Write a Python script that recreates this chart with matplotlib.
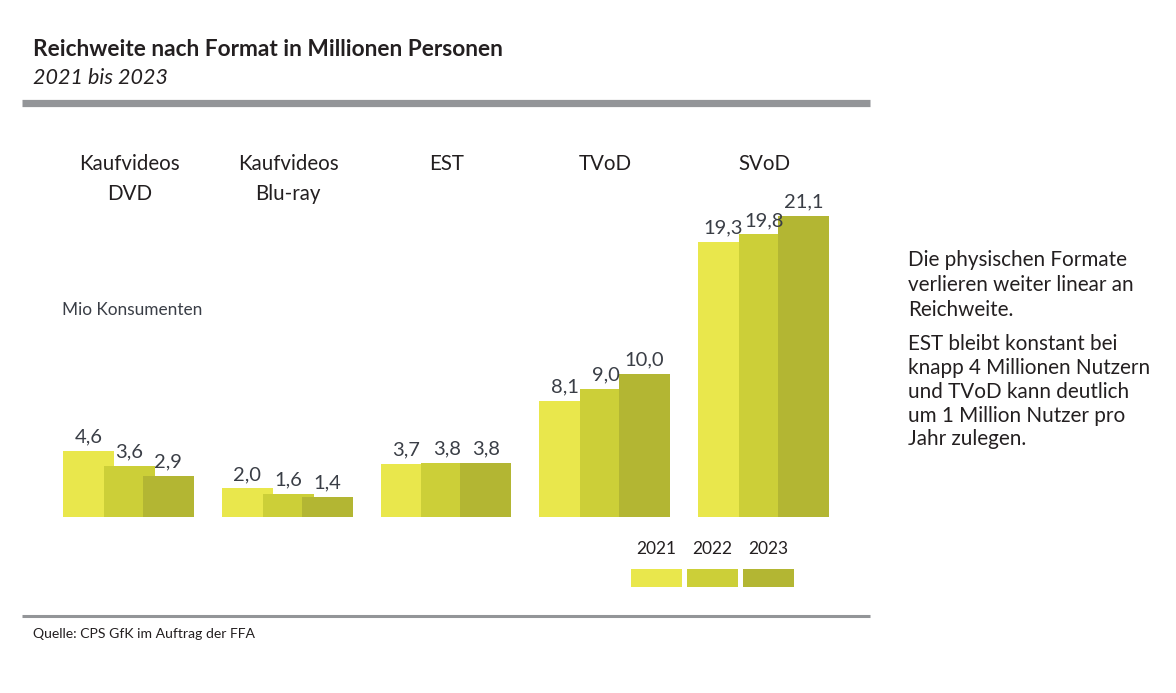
import matplotlib
matplotlib.use("Agg")
import matplotlib.pyplot as plt
from matplotlib.patches import Rectangle
from matplotlib.lines import Line2D

plt.rcParams['font.family'] = ['Lato', 'DejaVu Sans']

# data
formats = ["Kaufvideos\nDVD", "Kaufvideos\nBlu-ray", "EST", "TVoD", "SVoD"]
years = ["2021", "2022", "2023"]
v2021 = [4.6, 2.0, 3.7, 8.1, 19.3]
v2022 = [3.6, 1.6, 3.8, 9.0, 19.8]
v2023 = [2.9, 1.4, 3.8, 10.0, 21.1]
colors = ["#e9e74c", "#cccf38", "#b3b633"]

W, H = 1176, 693
fig = plt.figure(figsize=(W / 100, H / 100), dpi=100)

def fx(px):
    return px / W

def fy(py):
    return 1 - py / H

# axes placed in pixel terms: left 22, right 870, baseline y=517, top y=140
ax = fig.add_axes([fx(22), fy(517), fx(870 - 22), (517 - 140) / H])
ax.set_xlim(-0.677, 4.665)
ax.set_ylim(0, 377 / 14.27)
ax.axis("off")

offsets = [-0.258, 0.0, 0.245]
width = 0.321
series = [v2021, v2022, v2023]
for k, vals in enumerate(series):
    xs = [i + offsets[k] for i in range(len(formats))]
    ax.bar(xs, vals, width=width, color=colors[k], linewidth=0, zorder=2 + k)
    for x, v in zip(xs, vals):
        ax.annotate(f"{v:.1f}".replace(".", ","), (x, v), xytext=(0, 4),
                    textcoords="offset points", ha="center", va="bottom",
                    fontsize=14.5, color="#3a3e46", zorder=10)

for i, name in enumerate(formats):
    ax.text(i, 363 / 14.27, name, ha="center", va="top", fontsize=14.8,
            color="#231f20", linespacing=1.63)

# title block
fig.text(fx(33), fy(50), "Reichweite nach Format in Millionen Personen",
         fontsize=16.3, fontweight="bold", color="#231f20", va="center")
fig.text(fx(33), fy(78), "2021 bis 2023", fontsize=15.5, fontstyle="italic",
         color="#231f20", va="center")
fig.add_artist(Line2D([fx(22), fx(870)], [fy(102.5), fy(102.5)],
                      color="#939598", linewidth=5.2, solid_capstyle="butt"))
fig.add_artist(Line2D([fx(22), fx(870)], [fy(616), fy(616)],
                      color="#939598", linewidth=2.2, solid_capstyle="butt"))
fig.text(fx(33), fy(634), "Quelle: CPS GfK im Auftrag der FFA", fontsize=10.1,
         color="#231f20", va="center")

fig.text(fx(62), fy(310), "Mio Konsumenten", fontsize=12.4, color="#3a3e46",
         va="center")

# legend
for k, yr in enumerate(years):
    left = 631 + k * 56
    fig.add_artist(Rectangle((fx(left), fy(587)), fx(51), 18 / H,
                             facecolor=colors[k], edgecolor="none"))
    fig.text(fx(left + 25.5), fy(549), yr, ha="center", va="center",
             fontsize=12.5, color="#231f20")

# side note
fig.text(fx(908), fy(250), "Die physischen Formate\nverlieren weiter linear an\nReichweite.",
         fontsize=14.9, color="#231f20", va="top", linespacing=1.3)
fig.text(fx(908), fy(334), "EST bleibt konstant bei\nknapp 4 Millionen Nutzern\n"
         "und TVoD kann deutlich\num 1 Million Nutzer pro\nJahr zulegen.",
         fontsize=14.9, color="#231f20", va="top", linespacing=1.24)

fig.savefig("out.png", dpi=100)
